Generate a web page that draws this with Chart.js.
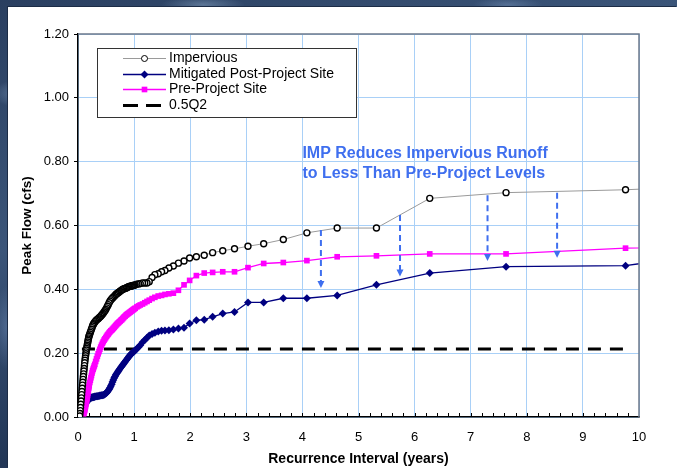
<!DOCTYPE html>
<html>
<head>
<meta charset="utf-8">
<script src="https://cdn.jsdelivr.net/npm/chart.js@4.4.0/dist/chart.umd.min.js"></script>
<style>
html, body { margin: 0; padding: 0; }
body {
    width: 677px; height: 468px; overflow: hidden; position: relative;
    background:
        radial-gradient(ellipse 40px 20px at 3% 20%, rgba(150,180,215,.45), transparent 70%),
        radial-gradient(ellipse 60px 12px at 30% 1%, rgba(160,190,220,.4), transparent 70%),
        radial-gradient(ellipse 50px 10px at 75% 1%, rgba(140,170,210,.35), transparent 70%),
        radial-gradient(ellipse 20px 60px at 1% 70%, rgba(120,150,195,.4), transparent 70%),
        linear-gradient(160deg, #2a3f60, #3b5579 35%, #223656 65%, #36507a);
}
#panel {
    position: absolute; left: 8px; top: 7px; width: 669px; height: 461px;
    background: #fff; box-shadow: -1px -1px 0 #1c2c46;
}
</style>
</head>
<body>
<div id="panel"><canvas id="myChart"></canvas></div>
<script>
// recurrence interval (years), shared by all three series
var recurrence = [
    13.5, 9.76, 7.63, 6.27, 5.32, 4.62, 4.08, 3.66, 3.31, 3.03, 2.79, 2.58, 2.40, 2.25, 2.11,
    1.99, 1.89, 1.79, 1.70, 1.62, 1.55, 1.49, 1.43, 1.37, 1.32, 1.27, 1.23, 1.19, 1.15, 1.11, 1.08, 1.05, 1.02,
    1.005, 0.99, 0.975, 0.96, 0.945, 0.93, 0.915, 0.90, 0.885, 0.87, 0.855, 0.84, 0.825, 0.81, 0.795, 0.78,
    0.765, 0.75, 0.735, 0.72, 0.705, 0.69, 0.675, 0.66, 0.645, 0.63, 0.615, 0.60, 0.585, 0.57, 0.555, 0.54,
    0.525, 0.51, 0.495, 0.48, 0.465, 0.45, 0.435, 0.42, 0.405, 0.39, 0.375, 0.36, 0.345, 0.33, 0.315, 0.30,
    0.29, 0.28, 0.27, 0.26, 0.25, 0.24, 0.23, 0.22, 0.21, 0.20,
    0.195, 0.19, 0.185, 0.18, 0.175, 0.17, 0.165, 0.16, 0.155, 0.15, 0.145, 0.14, 0.135, 0.13, 0.125, 0.12, 0.115,
    0.11, 0.105, 0.10, 0.095, 0.09, 0.085, 0.08, 0.075, 0.07, 0.065, 0.06, 0.055, 0.05, 0.045, 0.04, 0.035, 0.03];

var impervious = [
    0.74, 0.712, 0.703, 0.685, 0.592, 0.592, 0.577, 0.556, 0.543, 0.535, 0.527, 0.521, 0.515, 0.507, 0.502,
    0.498, 0.489, 0.482, 0.473, 0.467, 0.459, 0.455, 0.449, 0.446, 0.437, 0.424, 0.420, 0.420, 0.420, 0.418, 0.417, 0.416, 0.414,
    0.413, 0.412, 0.412, 0.411, 0.410, 0.410, 0.409, 0.408, 0.407, 0.405, 0.404, 0.403, 0.402, 0.401, 0.400, 0.398,
    0.396, 0.394, 0.392, 0.390, 0.388, 0.386, 0.384, 0.381, 0.378, 0.375, 0.373, 0.370, 0.367, 0.363, 0.358, 0.352,
    0.347, 0.342, 0.337, 0.333, 0.329, 0.325, 0.322, 0.319, 0.316, 0.313, 0.311, 0.308, 0.306, 0.304, 0.301, 0.298,
    0.295, 0.292, 0.289, 0.285, 0.280, 0.275, 0.270, 0.265, 0.260, 0.255,
    0.252, 0.248, 0.244, 0.240, 0.235, 0.230, 0.225, 0.220, 0.215, 0.210, 0.204, 0.198, 0.192, 0.185, 0.178, 0.170, 0.161,
    0.152, 0.144, 0.135, 0.127, 0.118, 0.109, 0.100, 0.090, 0.080, 0.070, 0.060, 0.050, 0.040, 0.030, 0.020, 0.011, 0.003];

var mitigated = [
    0.57, 0.474, 0.471, 0.451, 0.414, 0.381, 0.372, 0.372, 0.359, 0.359, 0.329, 0.324, 0.314, 0.305, 0.303,
    0.293, 0.280, 0.277, 0.274, 0.272, 0.271, 0.270, 0.268, 0.264, 0.260, 0.255, 0.248, 0.241, 0.234, 0.225, 0.219, 0.214, 0.209,
    0.207, 0.204, 0.202, 0.199, 0.197, 0.194, 0.191, 0.187, 0.184, 0.180, 0.177, 0.173, 0.170, 0.166, 0.163, 0.159,
    0.156, 0.152, 0.148, 0.144, 0.140, 0.136, 0.132, 0.127, 0.122, 0.116, 0.110, 0.103, 0.097, 0.092, 0.087, 0.083,
    0.079, 0.076, 0.074, 0.072, 0.070, 0.069, 0.068, 0.068, 0.067, 0.067, 0.066, 0.066, 0.065, 0.065, 0.064, 0.064,
    0.063, 0.063, 0.062, 0.062, 0.061, 0.061, 0.060, 0.059, 0.058, 0.057,
    0.056, 0.055, 0.054, 0.053, 0.052, 0.051, 0.050, 0.049, 0.048, 0.047, 0.046, 0.045, 0.044, 0.043, 0.042, 0.040, null,
    null, null, null, null, null, null, null, null, null, null, null, null, null, null, null, null, null];

var preProject = [
    0.54, 0.529, 0.511, 0.511, 0.505, 0.502, 0.490, 0.484, 0.481, 0.468, 0.455, 0.455, 0.453, 0.451, 0.443,
    0.428, 0.414, 0.397, 0.388, 0.386, 0.384, 0.381, 0.379, 0.375, 0.371, 0.366, 0.362, 0.358, 0.354, 0.351, 0.348, 0.345, 0.341,
    0.339, 0.337, 0.335, 0.333, 0.331, 0.329, 0.327, 0.325, 0.323, 0.321, 0.319, 0.316, 0.314, 0.311, 0.308, 0.305,
    0.303, 0.300, 0.298, 0.295, 0.293, 0.290, 0.287, 0.284, 0.281, 0.278, 0.275, 0.272, 0.270, 0.267, 0.264, 0.260,
    0.257, 0.253, 0.249, 0.245, 0.241, 0.236, 0.231, 0.225, 0.219, 0.212, 0.205, 0.198, 0.190, 0.182, 0.174, 0.165,
    0.160, 0.155, 0.150, 0.145, 0.138, 0.130, 0.123, 0.115, 0.108, 0.100,
    0.095, 0.090, 0.085, 0.080, 0.074, 0.068, 0.063, 0.058, 0.053, 0.048, 0.044, 0.040, 0.035, 0.030, 0.026, 0.022, 0.018,
    0.015, 0.012, 0.010, null, null, null, null, null, null, null, null, null, null, null, null, null, null];

var halfQ2 = 0.213;
var halfQ2Range = [0.07, 9.87];

var seriesLabels = ['Impervious', 'Mitigated Post-Project Site', 'Pre-Project Site', '0.5Q2'];
var yTicks = [0, 0.2, 0.4, 0.6, 0.8, 1.0, 1.2];

var noteLines = ['IMP Reduces Impervious Runoff', 'to Less Than Pre-Project Levels'];
var noteAt = { x: 4.0, y: 0.826 };
// dashed arrows: x, start y, tip y
var arrows = [
    { x: 4.33, from: 0.586, to: 0.404 },
    { x: 5.74, from: 0.633, to: 0.440 },
    { x: 7.30, from: 0.695, to: 0.489 },
    { x: 8.54, from: 0.703, to: 0.499 }
];

function pairs(xs, ys) {
    var out = [];
    for (var i = 0; i < xs.length; i++) {
        if (ys[i] !== null && ys[i] !== undefined) out.push({ x: xs[i], y: ys[i] });
    }
    return out;
}

var FONT = "'Liberation Sans', Arial, sans-serif";
var BLUE = '#3f6fef';
Chart.defaults.font.family = FONT;
Chart.defaults.color = '#000';

var datasets = [
    {
        label: seriesLabels[0], data: pairs(recurrence, impervious), order: 0,
        borderColor: '#9a9a9a', borderWidth: 1, pointStyle: 'circle', pointRadius: 3,
        pointBackgroundColor: '#fff', pointBorderColor: '#000', pointBorderWidth: 1.4
    },
    {
        label: seriesLabels[1], data: pairs(recurrence, mitigated), order: 2,
        borderColor: '#000080', borderWidth: 1.3, pointStyle: 'rectRot', pointRadius: 4,
        pointBackgroundColor: '#000080', pointBorderColor: '#000080', pointBorderWidth: 0
    },
    {
        label: seriesLabels[2], data: pairs(recurrence, preProject), order: 1,
        borderColor: '#ff00ff', borderWidth: 1.3, pointStyle: 'rect', pointRadius: 4,
        pointBackgroundColor: '#ff00ff', pointBorderColor: '#ff00ff', pointBorderWidth: 0
    },
    {
        label: seriesLabels[3], data: [{ x: halfQ2Range[0], y: halfQ2 }, { x: halfQ2Range[1], y: halfQ2 }], order: 3,
        borderColor: '#000', borderWidth: 3, borderDash: [13, 9], pointRadius: 0
    }
];

var overlay = {
    id: 'overlay',
    afterDatasetsDraw: function (chart) {
        var ctx = chart.ctx, area = chart.chartArea;
        var sx = chart.scales.x, sy = chart.scales.y;
        ctx.save();

        // top / right frame
        ctx.strokeStyle = '#6d7a8c';
        ctx.lineWidth = 1.5;
        ctx.beginPath();
        ctx.moveTo(area.left, area.top);
        ctx.lineTo(area.right, area.top);
        ctx.lineTo(area.right, area.bottom);
        ctx.stroke();

        // minor ticks on x axis, pointing inwards
        ctx.strokeStyle = '#000';
        ctx.lineWidth = 1;
        for (var k = 1; k < 50; k++) {
            var px = Math.round(sx.getPixelForValue(k / 5)) + 0.5;
            ctx.beginPath();
            ctx.moveTo(px, area.bottom);
            ctx.lineTo(px, area.bottom - 4);
            ctx.stroke();
        }

        // arrows
        ctx.strokeStyle = BLUE;
        ctx.fillStyle = BLUE;
        ctx.lineWidth = 2;
        arrows.forEach(function (a) {
            var ax = sx.getPixelForValue(a.x);
            var y0 = sy.getPixelForValue(a.from), y1 = sy.getPixelForValue(a.to);
            ctx.setLineDash([6, 4]);
            ctx.beginPath();
            ctx.moveTo(ax, y0);
            ctx.lineTo(ax, y1 - 6);
            ctx.stroke();
            ctx.setLineDash([]);
            ctx.beginPath();
            ctx.moveTo(ax - 3.5, y1 - 7);
            ctx.lineTo(ax + 3.5, y1 - 7);
            ctx.lineTo(ax, y1);
            ctx.closePath();
            ctx.fill();
        });

        // note
        ctx.font = 'bold 16px ' + FONT;
        ctx.textAlign = 'left';
        ctx.textBaseline = 'middle';
        var nx = sx.getPixelForValue(noteAt.x), ny = sy.getPixelForValue(noteAt.y);
        noteLines.forEach(function (t, i) {
            ctx.fillText(t, nx, ny + i * 20);
        });

        // legend box
        var lx = area.left + 19, ly = area.top + 14, lw = 259, lh = 69;
        ctx.fillStyle = '#fff';
        ctx.fillRect(lx, ly, lw, lh);
        ctx.strokeStyle = '#333';
        ctx.lineWidth = 1;
        ctx.strokeRect(lx + 0.5, ly + 0.5, lw, lh);
        ctx.font = '14px ' + FONT;
        chart.data.datasets.forEach(function (ds, i) {
            var ry = Math.round(ly + 9.7 + i * 15.8) + 0.5;
            ctx.strokeStyle = ds.borderColor;
            ctx.lineWidth = ds.borderWidth;
            ctx.setLineDash(ds.borderDash ? [15, 8] : []);
            ctx.beginPath();
            ctx.moveTo(lx + 26, ry);
            ctx.lineTo(lx + 69, ry);
            ctx.stroke();
            ctx.setLineDash([]);
            if (ds.pointRadius > 0) {
                ctx.fillStyle = ds.pointBackgroundColor;
                ctx.strokeStyle = ds.pointBorderColor;
                ctx.lineWidth = Math.min(ds.pointBorderWidth, 1);
                Chart.helpers.drawPoint(ctx, {
                    pointStyle: ds.pointStyle, radius: ds.pointRadius, rotation: 0,
                    borderWidth: ds.pointBorderWidth
                }, lx + 47.5, ry);
            }
            ctx.fillStyle = '#000';
            ctx.fillText(ds.label, lx + 72, ry);
        });

        ctx.restore();
    }
};

var ctx = document.getElementById('myChart');
var myChart = new Chart(ctx, {
    type: 'line',
    data: { datasets: datasets },
    options: {
        animation: false,
        responsive: true,
        maintainAspectRatio: false,
        events: [],
        layout: { padding: { top: 27, right: 38, left: 0, bottom: 0 } },
        elements: { line: { tension: 0 } },
        plugins: {
            legend: { display: false },
            tooltip: { enabled: false }
        },
        scales: {
            x: {
                type: 'linear', min: 0, max: 10,
                afterFit: function (scale) { scale.height = 51; },
                ticks: { stepSize: 1, padding: 13, font: { size: 13 }, color: '#000' },
                grid: { color: '#a9d0f7', lineWidth: 1, drawTicks: false },
                border: { color: '#000', width: 1.5 },
                title: {
                    display: true, text: 'Recurrence Interval (years)',
                    font: { size: 14, weight: 'bold' }, color: '#000', padding: { top: 0, bottom: 0 }
                }
            },
            y: {
                type: 'linear', min: 0, max: 1.2,
                afterFit: function (scale) { scale.width = 70; },
                afterBuildTicks: function (scale) {
                    scale.ticks = yTicks.map(function (v) { return { value: v }; });
                },
                ticks: {
                    padding: 5, font: { size: 13 }, color: '#000',
                    callback: function (value) { return Number(value).toFixed(2); }
                },
                grid: { color: '#a9d0f7', lineWidth: 1, tickLength: 4, tickColor: '#000' },
                border: { color: '#000', width: 1.5 },
                title: {
                    display: true, text: 'Peak Flow (cfs)',
                    font: { size: 13.5, weight: 'bold' }, color: '#000', padding: { top: 11, bottom: 0 }
                }
            }
        }
    },
    plugins: [overlay]
});
</script>
</body>
</html>
